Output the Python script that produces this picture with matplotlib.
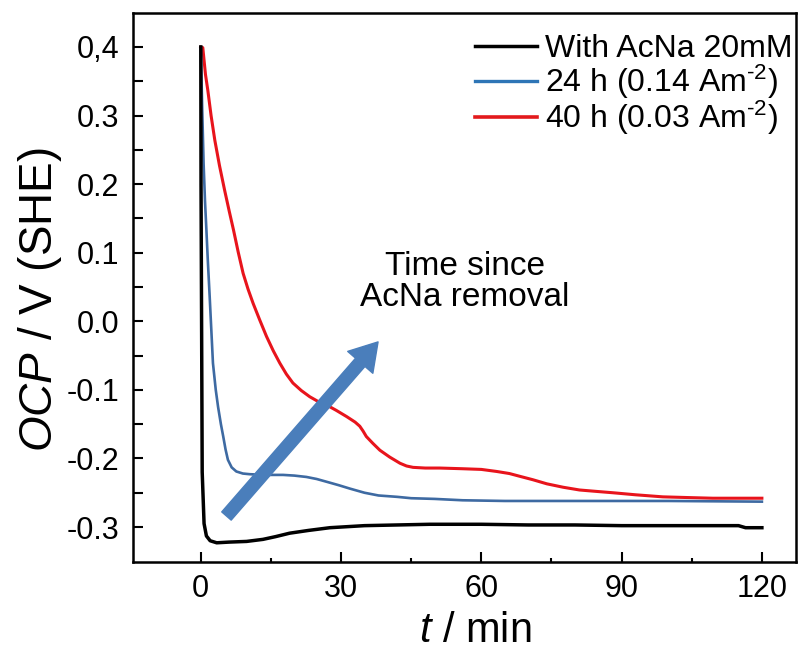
import matplotlib
matplotlib.use("Agg")
import matplotlib.pyplot as plt
from matplotlib.lines import Line2D
from matplotlib.ticker import FixedLocator
import numpy as np

plt.rcParams['font.family'] = ['Liberation Sans', 'DejaVu Sans']
plt.rcParams['mathtext.fontset'] = 'custom'
plt.rcParams['mathtext.rm'] = 'Liberation Sans'
plt.rcParams['mathtext.it'] = 'Liberation Sans:italic'

# Curva com AcNa (preta)
t_black = [0, 0.05, 0.3, 0.7, 1.2, 2.0, 3.4, 6, 9.8, 13.3, 16, 19, 23, 27.6,
           35, 42, 49, 60, 70, 80, 90, 100, 110, 115, 116.5, 120]
v_black = [0.40, 0.20, -0.22, -0.295, -0.313, -0.320, -0.323, -0.322, -0.321,
           -0.318, -0.314, -0.309, -0.305, -0.301, -0.298, -0.297, -0.296,
           -0.296, -0.297, -0.297, -0.298, -0.298, -0.298, -0.298, -0.301,
           -0.301]

# 24 h (azul)
t_blue = [0, 0.3, 0.6, 0.9, 1.2, 1.5, 1.9, 2.6, 3.2, 3.7, 4.3, 4.8, 5.3, 5.8,
          6.6, 7.6, 9, 10.5, 14, 17.6, 20, 22.6, 24.8, 26.9, 29.5, 31.9, 35,
          38, 42, 45, 50, 56, 65, 80, 100, 120]
v_blue = [0.40, 0.31, 0.23, 0.175, 0.133, 0.089, 0.036, -0.061, -0.100,
          -0.125, -0.150, -0.168, -0.187, -0.202, -0.213, -0.219, -0.222,
          -0.223, -0.224, -0.224, -0.225, -0.227, -0.230, -0.234, -0.239,
          -0.244, -0.250, -0.254, -0.256, -0.258, -0.259, -0.261, -0.262,
          -0.262, -0.262, -0.263]

# 40 h (vermelha)
t_red = [0, 0.43, 1.0, 1.5, 2.2, 3.0, 4.0, 5.1, 6.1, 7.0, 8.0, 9.05, 10.1,
         11.2, 12.6, 14.05, 15.5, 16.9, 18.3, 19.7, 21.5, 23.3, 25.1, 26.9,
         29, 31.2, 33.0, 34.0, 34.7, 35.4, 36.8, 38.3, 40.4, 42.6, 44, 45.4,
         48, 51.1, 56, 60, 63.3, 66, 68.2, 71, 74, 77.5, 81, 84.5, 88.1, 93,
         98.8, 104, 109.5, 115, 120]
v_red = [0.40, 0.399, 0.36, 0.337, 0.30, 0.264, 0.227, 0.191, 0.160, 0.133,
         0.101, 0.070, 0.047, 0.026, 0.002, -0.022, -0.043, -0.061, -0.077,
         -0.090, -0.101, -0.110, -0.117, -0.122, -0.130, -0.139, -0.147,
         -0.153, -0.160, -0.168, -0.178, -0.188, -0.198, -0.207, -0.211,
         -0.213, -0.214, -0.214, -0.215, -0.216, -0.219, -0.222, -0.226,
         -0.231, -0.237, -0.242, -0.246, -0.248, -0.250, -0.253, -0.256,
         -0.257, -0.258, -0.258, -0.258]

labels = ['With AcNa 20mM', r'24 h (0.14 Am$^{\text{-}2}$)', r'40 h (0.03 Am$^{\text{-}2}$)']
y_ticks = [0.4, 0.3, 0.2, 0.1, 0.0, -0.1, -0.2, -0.3]
y_ticklabels = ['0,4', '0.3', '0.2', '0.1', '0.0', '-0.1', '-0.2', '-0.3']
y_minor = [0.35, 0.25, 0.15, 0.05, -0.05, -0.15, -0.25]
x_ticks = [0, 30, 60, 90, 120]
x_minor = [15, 45, 75, 105]

fig = plt.figure(figsize=(8.07, 6.59), dpi=100)
ax = fig.add_axes([0.1648, 0.1472, 0.8216, 0.8331])

ax.plot(t_red, v_red, color='#e8141c', lw=2.2, zorder=3)
ax.plot(t_blue, v_blue, color='#3e6aa2', lw=1.9, zorder=3)
ax.plot(t_black, v_black, color='black', lw=2.5, zorder=4)

ax.set_xlim(-14.5, 127.3)
ax.set_ylim(-0.351, 0.4496)

ax.set_xticks(x_ticks)
ax.xaxis.set_minor_locator(FixedLocator(x_minor))
ax.yaxis.set_major_locator(FixedLocator(y_ticks))
ax.set_yticklabels(y_ticklabels)
ax.yaxis.set_minor_locator(FixedLocator(y_minor))

ax.tick_params(axis='both', which='both', direction='in', top=False, right=False,
               labelsize=22, width=1.5)
ax.tick_params(axis='x', which='major', length=7.5, pad=9)
ax.tick_params(axis='x', which='minor', length=3)
ax.tick_params(axis='y', which='both', length=7.5, pad=10)
for s in ax.spines.values():
    s.set_linewidth(1.8)

ax.set_xlabel('$t$ / min', fontsize=30)
ax.xaxis.set_label_coords((475 - 133) / 663, -0.09)
ax.set_ylabel('$OCP$ / V (SHE)', fontsize=33)
ax.yaxis.set_label_coords(-0.104, (659 - 300 - 97) / 549)

# Seta "Time since AcNa removal"
ax.annotate('', xy=(38.3, -0.027), xytext=(5.1, -0.287),
            arrowprops=dict(arrowstyle='simple,head_width=1.6,head_length=1.3,tail_width=0.6',
                            color='#4a7ebb', mutation_scale=15), zorder=5)
ax.text(56.5, 0.057, 'Time since\nAcNa removal', fontsize=24, ha='center',
        va='center', linespacing=1.0)

handles = [Line2D([], [], color='black', lw=2.5),
           Line2D([], [], color='#2e75b6', lw=2.4),
           Line2D([], [], color='#e31a1c', lw=2.6)]
fig.legend(handles, labels, loc='upper left', bbox_to_anchor=(475 / 807, 1 - 34 / 659),
           frameon=False, fontsize=23, borderpad=0, borderaxespad=0,
           handlelength=1.95, handletextpad=0.25, labelspacing=-0.05)

fig.savefig('out.png', dpi=100)
